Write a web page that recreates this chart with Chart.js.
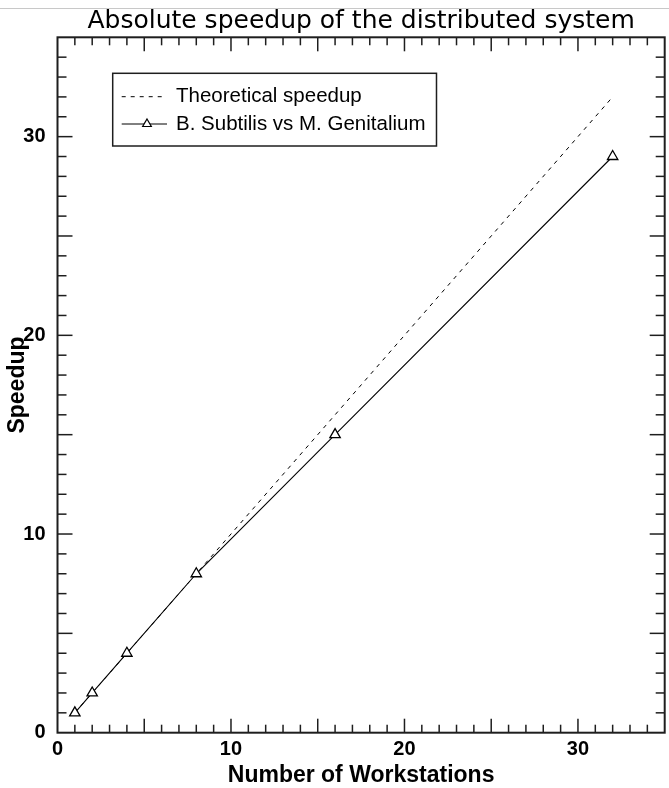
<!DOCTYPE html>
<html><head><meta charset="utf-8">
<script src="https://cdn.jsdelivr.net/npm/chart.js@4"></script>
<style>
html,body{margin:0;padding:0;background:#fff;overflow:hidden;width:669px;height:788px;}
#wrap{position:absolute;left:0;top:0;width:672px;height:788px;}
#topline{position:absolute;left:0;top:8px;width:669px;height:1px;background:#c8c8c8;z-index:2;}
</style></head><body>
<div id="wrap"><canvas id="c"></canvas></div>
<div id="topline"></div>
<script>
const workstations = [1, 2, 4, 8, 16, 32];
const theoreticalSpeedup = [1, 2, 4, 8, 16, 32];
const measuredSpeedup = [1, 2, 4, 8, 15, 29];
const xTickLabels = ['0', '10', '20', '30'];
const yTickLabels = ['0', '10', '20', '30'];
const seriesLabels = ['Theoretical speedup', 'B. Subtilis vs M. Genitalium'];
const chartTitle = 'Absolute speedup of the distributed system';
const xTitle = 'Number of Workstations';
const yTitle = 'Speedup';

const toPoints = (xs, ys) => xs.map((x, i) => ({x: x, y: ys[i]}));

const INK = '#1e1e1e';

const framePlugin = {
  id: 'frameTicks',
  afterDatasetsDraw(chart) {
    const {ctx, chartArea: a, scales: {x, y}} = chart;
    ctx.save();
    ctx.strokeStyle = INK;
    ctx.lineWidth = 1.5;
    const seg = (x1, y1, x2, y2) => { ctx.beginPath(); ctx.moveTo(x1, y1); ctx.lineTo(x2, y2); ctx.stroke(); };
    for (let v = 1; v < x.max; v++) {
      const px = x.getPixelForValue(v);
      const len = v % 5 === 0 ? 14 : 8;
      seg(px, a.bottom, px, a.bottom - len);
      seg(px, a.top, px, a.top + len);
    }
    for (let v = 1; v < y.max; v++) {
      const py = y.getPixelForValue(v);
      const len = v % 5 === 0 ? 15 : 9;
      seg(a.left, py, a.left + len, py);
      seg(a.right, py, a.right - len, py);
    }
    ctx.lineWidth = 2;
    ctx.strokeRect(a.left, a.top, a.right - a.left, a.bottom - a.top);
    ctx.restore();
  }
};

const legendPlugin = {
  id: 'boxLegend',
  afterDraw(chart) {
    const {ctx, chartArea: a} = chart;
    const ds = chart.data.datasets;
    const bx = a.left + 55.2, by = a.top + 36;
    const textX = bx + 63.3;
    ctx.save();
    ctx.font = '20.5px "Liberation Sans", Arial, sans-serif';
    let maxW = 0;
    ds.forEach(d => { maxW = Math.max(maxW, ctx.measureText(d.label).width); });
    const bw = textX - bx + maxW + 11, bh = 72.7;
    ctx.fillStyle = '#fff';
    ctx.fillRect(bx, by, bw, bh);
    ctx.strokeStyle = INK;
    ctx.lineWidth = 1.5;
    ctx.strokeRect(bx, by, bw, bh);
    const rows = [by + 23.4, by + 50.7];
    ctx.lineWidth = 1;
    ctx.strokeStyle = '#000';
    ctx.setLineDash(ds[0].borderDash);
    ctx.beginPath(); ctx.moveTo(bx + 9, rows[0]); ctx.lineTo(bx + 52.3, rows[0]); ctx.stroke();
    ctx.setLineDash([]);
    ctx.beginPath(); ctx.moveTo(bx + 9, rows[1]); ctx.lineTo(bx + 54.3, rows[1]); ctx.stroke();
    const tx = bx + 34.3, ty = rows[1], r = 5;
    ctx.beginPath();
    ctx.moveTo(tx, ty - r);
    ctx.lineTo(tx + r * 0.866, ty + r * 0.5);
    ctx.lineTo(tx - r * 0.866, ty + r * 0.5);
    ctx.closePath();
    ctx.fillStyle = '#fff'; ctx.fill();
    ctx.lineWidth = 1.2; ctx.stroke();
    ctx.fillStyle = '#000';
    ctx.textBaseline = 'middle';
    ctx.textAlign = 'left';
    ctx.fillText(ds[0].label, textX, rows[0]);
    ctx.fillText(ds[1].label, textX, rows[1]);
    ctx.restore();
  }
};

new Chart(document.getElementById('c'), {
  type: 'line',
  data: {
    datasets: [
      {
        label: seriesLabels[0],
        data: toPoints(workstations, theoreticalSpeedup),
        borderColor: '#000',
        borderWidth: 1,
        borderDash: [4, 5],
        pointRadius: 0,
        fill: false,
        order: 1
      },
      {
        label: seriesLabels[1],
        data: toPoints(workstations, measuredSpeedup),
        borderColor: '#000',
        borderWidth: 1.1,
        pointStyle: 'triangle',
        pointRadius: 6,
        pointBackgroundColor: '#fff',
        pointBorderColor: '#000',
        pointBorderWidth: 1.3,
        fill: false,
        order: 0
      }
    ]
  },
  options: {
    responsive: true,
    maintainAspectRatio: false,
    animation: false,
    layout: {padding: {left: 0, right: 1.5, top: 0, bottom: 0}},
    plugins: {
      legend: {display: false},
      tooltip: {enabled: false},
      title: {
        display: true,
        text: chartTitle,
        fullSize: false,
        color: '#000',
        font: {family: '"DejaVu Sans", sans-serif', size: 25, weight: 'normal'},
        padding: {top: 6.5, bottom: 0.8}
      }
    },
    scales: {
      x: {
        type: 'linear',
        min: 0, max: 35,
        grid: {display: false},
        border: {display: false},
        ticks: {
          stepSize: 10,
          includeBounds: false,
          padding: -3,
          color: '#000',
          font: {family: '"Liberation Sans", Arial, sans-serif', size: 20, weight: 'bold'},
          callback: v => xTickLabels.includes(String(v)) ? String(v) : ''
        },
        title: {
          display: true,
          text: xTitle,
          color: '#000',
          font: {family: '"Liberation Sans", Arial, sans-serif', size: 23, weight: 'bold'},
          padding: {top: 0, bottom: -1.5}
        },
        afterFit: s => { s.height = 55.3; }
      },
      y: {
        type: 'linear',
        min: 0, max: 35,
        grid: {display: false},
        border: {display: false},
        ticks: {
          stepSize: 10,
          includeBounds: false,
          padding: 4,
          color: '#000',
          font: {family: '"Liberation Sans", Arial, sans-serif', size: 20, weight: 'bold'},
          callback: v => yTickLabels.includes(String(v)) ? String(v) : ''
        },
        title: {
          display: true,
          text: yTitle,
          color: '#000',
          font: {family: '"Liberation Sans", Arial, sans-serif', size: 23, weight: 'bold'},
          padding: {top: 4, bottom: 0}
        },
        afterFit: s => { s.width = 57.5; }
      }
    }
  },
  plugins: [framePlugin, legendPlugin]
});
</script>
</body></html>
